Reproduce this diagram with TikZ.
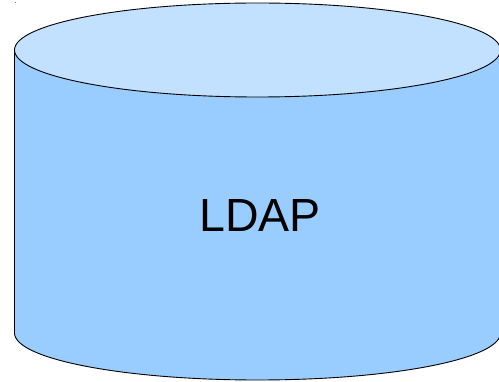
\documentclass[tikz,border=0pt]{standalone}
\usepackage{fontspec}
\setmainfont{Liberation Sans}
\definecolor{bodyblue}{HTML}{99CCFF}
\definecolor{topblue}{HTML}{C2E0FF}
\begin{document}
\begin{tikzpicture}[x=1pt,y=-1pt,line width=0.9pt,
  outline/.style={draw=black,line join=round}]
\useasboundingbox (0,0) rectangle (499,382);
\fill[gray] (14.5,2.5) rectangle (15.5,3.5);
% body
\path[outline,fill=bodyblue] (14.5,50) -- (14.5,333)
  arc[start angle=180,end angle=0,x radius=243,y radius=47] -- (500.5,50) -- cycle;
% top
\path[outline,fill=topblue] (257.5,50) ellipse[x radius=243,y radius=47];
\node (lbl) at (260,216) {\fontsize{46.5}{55}\selectfont LDAP};
\end{tikzpicture}
\end{document}
